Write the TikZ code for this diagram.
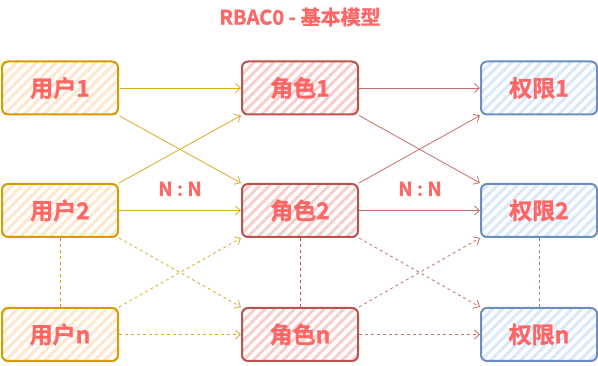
\documentclass[tikz,border=0pt]{standalone}
\usepackage{fontspec}
\setmainfont{Noto Sans CJK SC}[BoldFont={Noto Sans CJK SC Bold},BoldFeatures={FakeBold=1.2}]
\usetikzlibrary{patterns.meta,arrows.meta}
\definecolor{txt}{HTML}{FF6666}
\definecolor{ufill}{HTML}{FFE6CC}\definecolor{uline}{HTML}{D79B00}
\definecolor{rfill}{HTML}{F8CECC}\definecolor{rline}{HTML}{B85450}
\definecolor{pfill}{HTML}{DAE8FC}\definecolor{pline}{HTML}{6C8EBF}
\tikzset{
  box/.style={rounded corners=6pt, line width=2pt, minimum width=116pt, minimum height=53pt,
    inner sep=0pt, font=\bfseries\fontsize{23}{25}\selectfont, text=txt},
  ubox/.style={box, draw=uline, pattern={Lines[angle=45,distance=7pt,line width=3pt]}, pattern color=ufill},
  rbox/.style={box, draw=rline, pattern={Lines[angle=45,distance=7pt,line width=3pt]}, pattern color=rfill},
  pbox/.style={box, draw=pline, pattern={Lines[angle=45,distance=7pt,line width=3pt]}, pattern color=pfill},
  arr/.style={line width=0.8pt, -{Straight Barb[length=5pt,width=9pt,line width=0.8pt]}},
  dsh/.style={dash pattern=on 3pt off 3pt},
  ua/.style={arr, draw=uline!85},
  ra/.style={arr, draw=rline!85},
  lbl/.style={font=\bfseries\fontsize{19}{21}\selectfont, text=txt}
}
\begin{document}
\begin{tikzpicture}[x=1pt,y=-1pt]
\useasboundingbox (0,0) rectangle (598,366);
\node[lbl,font=\bfseries\fontsize{20}{22}\selectfont] (title) at (300,17) {RBAC0 - 基本模型};
\node[ubox] (u1) at (60,88) {用户1};
\node[ubox] (u2) at (60,210.5) {用户2};
\node[ubox] (un) at (60,334.5) {用户n};
\node[rbox] (r1) at (300,88) {角色1};
\node[rbox] (r2) at (300,210.5) {角色2};
\node[rbox] (rn) at (300,334.5) {角色n};
\node[pbox] (p1) at (539,88) {权限1};
\node[pbox] (p2) at (539,210.5) {权限2};
\node[pbox] (pn) at (539,334.5) {权限n};
\node[lbl] (nn1) at (180,189) {N : N};
\node[lbl] (nn2) at (420,189) {N : N};
% user -> role
\draw[ua] (u1) -- (r1);
\draw[ua] (u1.south east) -- (r2.north west);
\draw[ua] (u2.north east) -- (r1.south west);
\draw[ua] (u2) -- (r2);
\draw[ua,dsh] (u2.south east) -- (rn.north west);
\draw[ua,dsh] (un.north east) -- (r2.south west);
\draw[ua,dsh] (un) -- (rn);
% role -> perm
\draw[ra] (r1) -- (p1);
\draw[ra] (r1.south east) -- (p2.north west);
\draw[ra] (r2.north east) -- (p1.south west);
\draw[ra] (r2) -- (p2);
\draw[ra,dsh] (r2.south east) -- (pn.north west);
\draw[ra,dsh] (rn.north east) -- (p2.south west);
\draw[ra,dsh] (rn) -- (pn);
% vertical dashed
\draw[uline,line width=0.8pt,dsh] (u2) -- (un);
\draw[rline,line width=0.8pt,dsh] (r2) -- (rn);
\draw[pline,line width=0.8pt,dsh] (p2) -- (pn);
\end{tikzpicture}
\end{document}
